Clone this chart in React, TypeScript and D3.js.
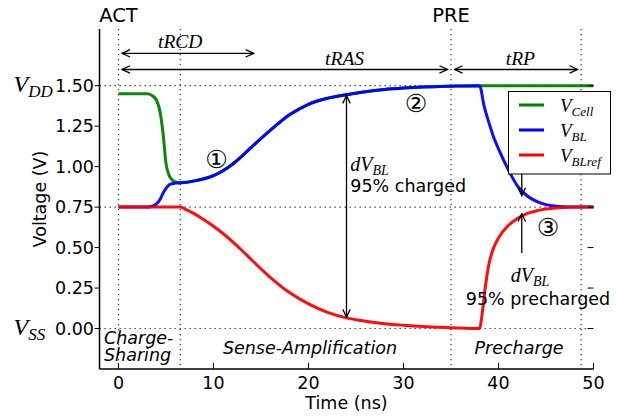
import React from 'react'
import * as d3 from 'd3'

// axis ticks
const xTicks = [0, 10, 20, 30, 40, 50]
const yTicks = [0, 0.25, 0.5, 0.75, 1.0, 1.25, 1.5]
const yTickLabels = ['0.00', '0.25', '0.50', '0.75', '1.00', '1.25', '1.50']

// command times (ns) and voltage levels drawn as dotted guides
const phaseTimes = [0, 6.5, 35, 48.7]
const levelVolts = [0, 0.75, 1.5]

// V_Cell (green)
const cellTime = [0, 3, 3.5, 4, 4.4, 4.7, 5, 5.3, 5.7, 6, 6.5, 8, 9, 10, 11, 12, 13, 14, 16, 18, 20, 22, 24, 26, 28, 30, 32, 35, 38, 50]
const cellV = [1.45, 1.45, 1.44, 1.41, 1.33, 1.2, 1.02, 0.95, 0.915, 0.905, 0.9, 0.912, 0.925, 0.945, 0.975, 1.015, 1.065, 1.12, 1.225, 1.32, 1.385, 1.422, 1.444, 1.463, 1.477, 1.486, 1.492, 1.497, 1.5, 1.5]

// V_BL (blue)
const blTime = [0, 3, 3.5, 4, 4.4, 4.7, 5, 5.4, 6, 6.5, 8, 9, 10, 11, 12, 13, 14, 16, 18, 20, 22, 24, 26, 28, 30, 32, 35, 38, 38.5, 39, 39.5, 40, 41, 42, 43, 44, 45, 46, 47, 48, 50]
const blV = [0.75, 0.75, 0.755, 0.77, 0.8, 0.837, 0.865, 0.89, 0.898, 0.9, 0.912, 0.925, 0.945, 0.975, 1.015, 1.065, 1.12, 1.225, 1.32, 1.385, 1.422, 1.444, 1.463, 1.477, 1.486, 1.492, 1.497, 1.5, 1.37, 1.27, 1.18, 1.11, 0.985, 0.88, 0.82, 0.785, 0.765, 0.756, 0.752, 0.75, 0.75]

// V_BLref (red)
const refTime = [0, 6.5, 7, 8, 9, 10, 11, 12, 13, 14, 16, 18, 20, 22, 24, 26, 28, 30, 32, 35, 38, 38.3, 38.6, 39, 39.5, 40, 41, 42, 43, 44, 45, 46, 47, 48, 50]
const refV = [0.75, 0.75, 0.738, 0.708, 0.672, 0.632, 0.587, 0.537, 0.482, 0.425, 0.315, 0.222, 0.152, 0.1, 0.066, 0.045, 0.03, 0.02, 0.012, 0.005, 0, 0.1, 0.25, 0.4, 0.5, 0.56, 0.635, 0.68, 0.71, 0.727, 0.738, 0.745, 0.748, 0.75, 0.75]

const W = 627
const H = 417
const left = 99.5
const right = 593.5
const top = 29
const bottom = 369

const sans = 'DejaVu Sans, sans-serif'
const serif = 'Liberation Serif, serif'

function MathV({ x, y, main, sub, size, subSize, anchor = 'start' }: any) {
  return (
    <text x={x} y={y} fontFamily={serif} fontStyle="italic" fontSize={size} textAnchor={anchor}>
      {main}
      <tspan fontSize={subSize} dy={size * 0.22}>{sub}</tspan>
    </text>
  )
}

export default function App() {
  const x = d3.scaleLinear().domain([-2, 50]).range([left, right])
  const y = d3.scaleLinear().domain([-0.25, 1.85]).range([bottom, top])

  const line = d3.line<[number, number]>()
    .x(d => x(d[0]))
    .y(d => y(d[1]))
    .curve(d3.curveMonotoneX)

  const series = [
    { name: 'Cell', t: cellTime, v: cellV, color: '#008000' },
    { name: 'BL', t: blTime, v: blV, color: '#0000ff' },
    { name: 'BLref', t: refTime, v: refV, color: '#ff0000' },
  ]

  const dots = { stroke: '#333', strokeWidth: 1.2, strokeDasharray: '1.3 3.7' }

  // horizontal arrows (time spans), shrunk a bit at the ends like matplotlib
  const spans = [
    { a: 0, b: 14.6, v: 1.70, label: 'tRCD', lx: 6.5, ly: 48 },
    { a: 0, b: 35, v: 1.60, label: 'tRAS', lx: 23.8, ly: 65 },
    { a: 35, b: 48.7, v: 1.60, label: 'tRP', lx: 42.3, ly: 65 },
  ]
  const shrink = 3.5

  const steps = [
    { label: '①', t: 10.3, v: 1.05 },
    { label: '②', t: 31.3, v: 1.39 },
    { label: '③', t: 45.2, v: 0.63 },
  ]

  return (
    <svg width={W} height={H} style={{ position: 'absolute', left: 0, top: 0, background: 'white' }}>
      <defs>
        <marker id="ah" viewBox="0 0 10 10" refX="9" refY="5" markerWidth="10" markerHeight="10"
          markerUnits="userSpaceOnUse" orient="auto-start-reverse">
          <path d="M1,1.3 L9,5 L1,8.7" fill="none" stroke="black" strokeWidth={1.3} />
        </marker>
      </defs>

      {/* dotted guides */}
      {phaseTimes.map(t => (
        <line key={'pt' + t} x1={x(t)} x2={x(t)} y1={top} y2={bottom} {...dots} />
      ))}
      {levelVolts.map(v => (
        <line key={'lv' + v} x1={left} x2={right} y1={y(v)} y2={y(v)} {...dots} />
      ))}

      {/* curves */}
      {series.map(s => (
        <path key={s.name} d={line(s.t.map((t, i) => [t, s.v[i]]))!} fill="none"
          stroke={s.color} strokeWidth={3} strokeOpacity={0.95} />
      ))}

      {/* axes */}
      <line x1={left} x2={left} y1={top} y2={bottom} stroke="black" strokeWidth={1.5} />
      <line x1={left} x2={right} y1={bottom} y2={bottom} stroke="black" strokeWidth={1.5} />
      {yTicks.map((v, i) => (
        <g key={'yt' + v}>
          <line x1={left - 5} x2={left} y1={y(v)} y2={y(v)} stroke="black" strokeWidth={1} />
          <line x1={right - 6} x2={right} y1={y(v)} y2={y(v)} stroke="black" strokeWidth={1} />
          <text x={left - 5.5} y={y(v)} dy="0.36em" textAnchor="end" fontFamily={sans} fontSize={17.5}>
            {yTickLabels[i]}
          </text>
        </g>
      ))}
      {xTicks.map(t => (
        <g key={'xt' + t}>
          <line x1={x(t)} x2={x(t)} y1={bottom - 6} y2={bottom} stroke="black" strokeWidth={1} />
          <text x={x(t)} y={389} textAnchor="middle" fontFamily={sans} fontSize={17.5}>{t}</text>
        </g>
      ))}
      <text x={(left + right) / 2} y={409} textAnchor="middle" fontFamily={sans} fontSize={17.5}>Time (ns)</text>
      <text transform={`translate(46,${(top + bottom) / 2}) rotate(-90)`} textAnchor="middle"
        fontFamily={sans} fontSize={17.5}>Voltage (V)</text>

      <MathV x={13.5} y={y(1.5) + 6} main="V" sub="DD" size={24} subSize={17} />
      <MathV x={13.5} y={y(0) + 6} main="V" sub="SS" size={24} subSize={17} />

      {/* commands */}
      <text x={x(0)} y={22} textAnchor="middle" fontFamily={sans} fontSize={19.5}>ACT</text>
      <text x={x(35)} y={22} textAnchor="middle" fontFamily={sans} fontSize={19.5}>PRE</text>

      {/* timing spans */}
      {spans.map(s => (
        <g key={s.label}>
          <line x1={x(s.a) + shrink} x2={x(s.b) - shrink} y1={y(s.v)} y2={y(s.v)} stroke="black"
            strokeWidth={1.3} markerStart="url(#ah)" markerEnd="url(#ah)" />
          <text x={x(s.lx)} y={s.ly} textAnchor="middle" fontFamily={serif} fontStyle="italic" fontSize={19.5}>
            {s.label}
          </text>
        </g>
      ))}

      {/* dV_BL charged */}
      <line x1={x(24)} x2={x(24)} y1={y(0.07)} y2={y(1.44)} stroke="black" strokeWidth={1.3}
        markerStart="url(#ah)" markerEnd="url(#ah)" />
      <MathV x={x(24.4)} y={171} main="dV" sub="BL" size={20} subSize={14} />
      <text x={x(24.4)} y={192} fontFamily={sans} fontSize={17.5}>95% charged</text>

      {/* dV_BL precharged */}
      <line x1={x(42.45)} x2={x(42.45)} y1={y(0.957)} y2={y(0.82)} stroke="black" strokeWidth={1.3}
        markerEnd="url(#ah)" />
      <line x1={x(42.45)} x2={x(42.45)} y1={y(0.467)} y2={y(0.71)} stroke="black" strokeWidth={1.3}
        markerEnd="url(#ah)" />
      <MathV x={530} y={282} main="dV" sub="BL" size={20} subSize={14} anchor="middle" />
      <text x={538} y={305} textAnchor="middle" fontFamily={sans} fontSize={17.5}>95% precharged</text>

      {/* step markers */}
      {steps.map(s => (
        <text key={s.label} x={x(s.t)} y={y(s.v)} dy="0.36em" textAnchor="middle" fontFamily={sans}
          fontSize={25}>{s.label}</text>
      ))}

      {/* phase names */}
      <text x={104} y={344} fontFamily={sans} fontStyle="italic" fontSize={17.5}>Charge-</text>
      <text x={104} y={361} fontFamily={sans} fontStyle="italic" fontSize={17.5}>Sharing</text>
      <text x={310} y={354} textAnchor="middle" fontFamily={sans} fontStyle="italic" fontSize={17.5}>Sense-Amplification</text>
      <text x={519} y={354} textAnchor="middle" fontFamily={sans} fontStyle="italic" fontSize={17.5}>Precharge</text>

      {/* legend */}
      <rect x={508.5} y={91.5} width={102} height={82.5} fill="white" stroke="black" strokeWidth={1} />
      {series.map((s, i) => (
        <g key={'lg' + s.name}>
          <line x1={519} x2={544} y1={105 + i * 25} y2={105 + i * 25} stroke={s.color} strokeWidth={3} />
          <MathV x={560} y={112 + i * 25} main="V" sub={s.name} size={19} subSize={13} />
        </g>
      ))}
    </svg>
  )
}
